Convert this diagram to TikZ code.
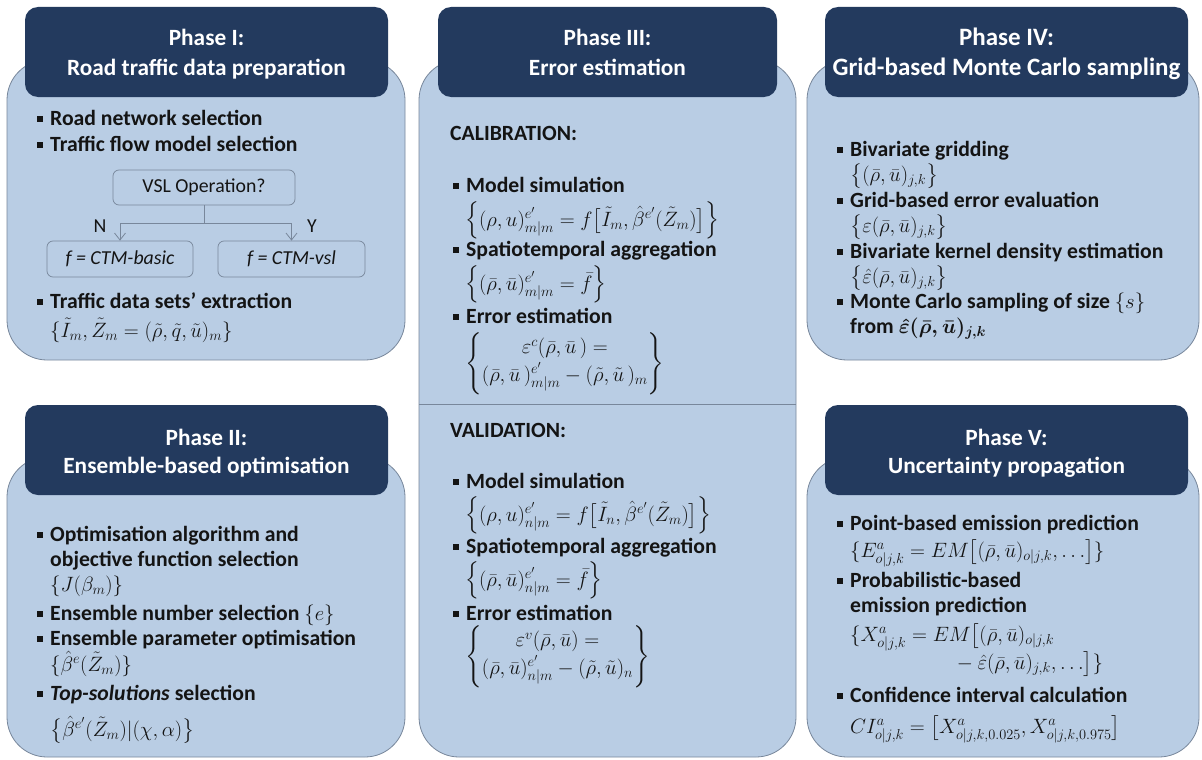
\documentclass[tikz,border=0pt]{standalone}
\usepackage{amsmath}
\usepackage{fontspec}
\setmainfont{Carlito}
\usetikzlibrary{arrows.meta}
\definecolor{bodyfill}{RGB}{185,205,228}
\definecolor{headfill}{RGB}{35,58,94}
\definecolor{edgegray}{RGB}{120,135,155}
\definecolor{txt}{RGB}{20,20,20}
\newcommand{\bul}{\makebox[13pt][l]{\rule[3pt]{6pt}{6pt}}}
\begin{document}
\begin{tikzpicture}[x=1pt,y=-1pt,
  body/.style={draw=edgegray, line width=0.8pt, fill=bodyfill, rounded corners=40pt},
  head/.style={fill=headfill, rounded corners=13pt},
  htxt/.style={anchor=base, text=white, font=\fontsize{23.3}{27}\selectfont\bfseries, inner sep=0pt},
  btxt/.style={anchor=base west, text=txt, font=\fontsize{21.7}{25}\selectfont\bfseries, inner sep=0pt},
  mtxt/.style={anchor=base west, text=txt, font=\fontsize{21}{25}\selectfont, inner sep=0pt},
  ltxt/.style={anchor=base, text=txt, font=\fontsize{19.8}{23}\selectfont, inner sep=0pt},
  fbox/.style={draw=edgegray, line width=0.7pt, rounded corners=6pt, font=\fontsize{19.8}{23}\selectfont, text=txt, inner sep=0pt},
  conn/.style={draw=edgegray, line width=0.8pt},
  tip/.style={-{Straight Barb[length=7pt,width=11pt]}}
  ]
\useasboundingbox (0,0) rectangle (1202,760);
\fill[white] (0,0) rectangle (1202,760);

% ---------------- Phase I ----------------
\draw[body] (7,60) rectangle (405,360);
\fill[head] (25,7) rectangle (388,97);
\node[htxt] (h1a) at (206.5,46) {Phase I:};
\node[htxt] (h1b) at (206.5,75) {Road traffic data preparation};
\node[btxt] (t1a) at (37,125) {\bul Road network selection};
\node[btxt] (t1b) at (37,151) {\bul Traffic flow model selection};
\node[fbox, minimum width=182pt, minimum height=35pt] (vsl) at (204,187.5) {VSL Operation?};
\node[fbox, minimum width=146pt, minimum height=36pt] (basic) at (120,259) {\itshape f = CTM-basic};
\node[fbox, minimum width=147pt, minimum height=36pt] (cvsl) at (291.5,259) {\itshape f = CTM-vsl};
\coordinate (j1) at (204,223);
\draw[conn] (vsl.south) -- (j1);
\draw[conn,tip] (j1) -| (basic.north);
\draw[conn,tip] (j1) -| (cvsl.north);
\node[ltxt] (lN) at (100,232) {N};
\node[ltxt] (lY) at (312,232) {Y};
\node[btxt] (t1c) at (37,308) {\bul Traffic data sets’ extraction};
\node[mtxt] (m1a) at (50,337) {$\{\tilde I_m, \tilde Z_m = (\tilde\rho,\tilde q,\tilde u)_m\}$};

% ---------------- Phase II ----------------
\draw[body] (7,457) rectangle (405,757);
\fill[head] (25,405) rectangle (388,495);
\node[htxt] (h2a) at (206.5,445) {Phase II:};
\node[htxt] (h2b) at (206.5,473) {Ensemble-based optimisation};
\node[btxt] (t2a) at (37,541) {\bul Optimisation algorithm and};
\node[btxt] (t2b) at (50,566) {objective function selection};
\node[mtxt] (m2a) at (50,591) {$\{J(\beta_m)\}$};
\node[btxt] (t2c) at (37,620) {\bul Ensemble number selection $\{e\}$};
\node[btxt] (t2d) at (37,645) {\bul Ensemble parameter optimisation};
\node[mtxt] (m2b) at (50,671) {$\{\hat\beta^{e}(\tilde Z_m)\}$};
\node[btxt] (t2e) at (37,700) {\bul \textit{Top-solutions} selection};
\node[mtxt] (m2c) at (50,736) {$\bigl\{\hat\beta^{e'}(\tilde Z_m)|(\chi,\alpha)\bigr\}$};

% ---------------- Phase III ----------------
\draw[body] (419,60) rectangle (796,757);
\draw[conn] (419,404) -- (796,404);
\fill[head] (438,7) rectangle (777,97);
\node[htxt] (h3a) at (607.5,46) {Phase III:};
\node[htxt] (h3b) at (607.5,75) {Error estimation};
\node[btxt] (t3a) at (450,140) {CALIBRATION:};
\node[btxt] (t3b) at (453,192) {\bul Model simulation};
\node[mtxt] (m3a) at (465,226) {$\Bigl\{(\rho,u)^{e'}_{m|m} = f\bigl[\tilde I_m, \hat\beta^{e'}(\tilde Z_m)\bigr]\Bigr\}$};
\node[btxt] (t3c) at (453,256) {\bul Spatiotemporal aggregation};
\node[mtxt] (m3b) at (465,290) {$\Bigl\{(\bar\rho,\bar u)^{e'}_{m|m} = \bar f\Bigr\}$};
\node[btxt] (t3d) at (453,323) {\bul Error estimation};
\node[mtxt, anchor=west] (m3c) at (465,364) {$\left\{\begin{matrix} \varepsilon^{c}(\bar\rho,\bar u\,) = \\[1pt] (\bar\rho,\bar u\,)^{e'}_{m|m} - (\tilde\rho,\tilde u\,)_m \end{matrix}\right\}$};
\node[btxt] (t3e) at (450,437) {VALIDATION:};
\node[btxt] (t3f) at (453,488) {\bul Model simulation};
\node[mtxt] (m3d) at (465,521) {$\Bigl\{(\rho,u)^{e'}_{n|m} = f\bigl[\tilde I_n, \hat\beta^{e'}(\tilde Z_m)\bigr]\Bigr\}$};
\node[btxt] (t3g) at (453,553) {\bul Spatiotemporal aggregation};
\node[mtxt] (m3e) at (465,586) {$\Bigl\{(\bar\rho,\bar u)^{e'}_{n|m} = \bar f\Bigr\}$};
\node[btxt] (t3h) at (453,620) {\bul Error estimation};
\node[mtxt, anchor=west] (m3f) at (465,657) {$\left\{\begin{matrix} \varepsilon^{v}(\bar\rho,\bar u) = \\[1pt] (\bar\rho,\bar u)^{e'}_{n|m} - (\tilde\rho,\tilde u)_n \end{matrix}\right\}$};

% ---------------- Phase IV ----------------
\draw[body] (807,60) rectangle (1199,360);
\fill[head] (825,7) rectangle (1188,97);
\node[htxt, font=\fontsize{25}{29}\selectfont\bfseries] (h4a) at (1006.5,46) {Phase IV:};
\node[htxt, font=\fontsize{25}{29}\selectfont\bfseries] (h4b) at (1006.5,76) {Grid-based Monte Carlo sampling};
\node[btxt] (t4a) at (837,156) {\bul Bivariate gridding};
\node[mtxt] (m4a) at (850,181) {$\bigl\{(\bar\rho,\bar u)_{j,k}\bigr\}$};
\node[btxt] (t4b) at (837,207) {\bul Grid-based error evaluation};
\node[mtxt] (m4b) at (850,232) {$\bigl\{\varepsilon(\bar\rho,\bar u)_{j,k}\bigr\}$};
\node[btxt] (t4c) at (837,258) {\bul Bivariate kernel density estimation};
\node[mtxt] (m4c) at (850,283) {$\bigl\{\hat\varepsilon(\bar\rho,\bar u)_{j,k}\bigr\}$};
\node[btxt] (t4d) at (837,308) {\bul Monte Carlo sampling of size $\{s\}$};
\node[btxt] (t4e) at (850,333) {from {\boldmath$\hat\varepsilon(\bar\rho,\bar u)_{j,k}$}};

% ---------------- Phase V ----------------
\draw[body] (807,457) rectangle (1199,757);
\fill[head] (825,405) rectangle (1188,495);
\node[htxt] (h5a) at (1006.5,445) {Phase V:};
\node[htxt] (h5b) at (1006.5,473) {Uncertainty propagation};
\node[btxt] (t5a) at (837,530) {\bul Point-based emission prediction};
\node[mtxt] (m5a) at (850,557) {$\{E^{a}_{o|j,k} = EM\bigl[(\bar\rho,\bar u)_{o|j,k}, \ldots\bigr]\}$};
\node[btxt] (t5b) at (837,587) {\bul Probabilistic-based};
\node[btxt] (t5c) at (850,612) {emission prediction};
\node[mtxt] (m5b) at (850,641) {$\{X^{a}_{o|j,k} = EM\bigl[(\bar\rho,\bar u)_{o|j,k}$};
\node[mtxt] (m5c) at (952,669) {${}- \hat\varepsilon(\bar\rho,\bar u)_{j,k}, \ldots\bigr]\}$};
\node[btxt] (t5d) at (837,702) {\bul Confidence interval calculation};
\node[mtxt] (m5d) at (850,733) {$CI^{a}_{o|j,k} = \bigl[X^{a}_{o|j,k,0.025}, X^{a}_{o|j,k,0.975}\bigr]$};
\end{tikzpicture}
\end{document}
